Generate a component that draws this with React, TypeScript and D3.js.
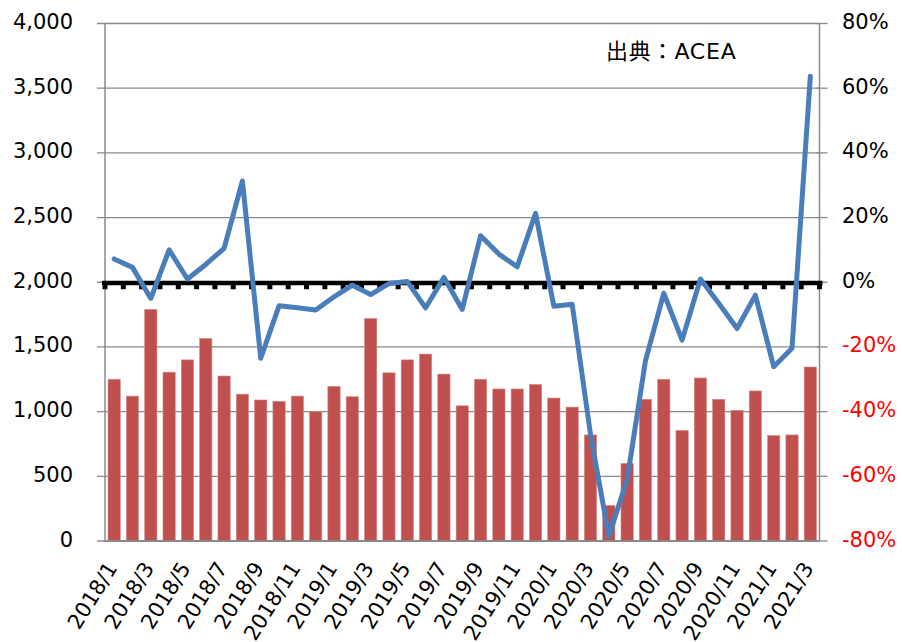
import React from "react";
import * as d3 from "d3";

const months: string[] = [];
for (let y = 2018; y <= 2021; y++) {
  for (let m = 1; m <= 12; m++) {
    if (y === 2021 && m > 3) break;
    months.push(`${y}/${m}`);
  }
}

const registrations = [
  1250, 1120, 1790, 1305, 1400, 1565, 1275, 1135, 1090, 1080, 1120, 1000,
  1195, 1115, 1720, 1300, 1400, 1445, 1290, 1045, 1250, 1175, 1175, 1210,
  1105, 1035, 820, 275, 600, 1095, 1250, 855, 1260, 1095, 1010, 1160,
  815, 820, 1345,
];

const yoyChange = [
  7.2, 4.6, -5.0, 10.0, 1.0, 5.5, 10.5, 31.3, -23.5, -7.3, -7.9, -8.6,
  -4.5, -0.9, -3.8, -0.4, 0.2, -7.9, 1.5, -8.4, 14.4, 8.7, 4.8, 21.3,
  -7.4, -6.8, -47, -78.5, -61, -24.3, -3.4, -17.9, 1.0, -6.5, -14.3, -4.0,
  -26.1, -20.4, 63.7,
];

const leftTicks = [0, 500, 1000, 1500, 2000, 2500, 3000, 3500, 4000];
const rightTicks = [-80, -60, -40, -20, 0, 20, 40, 60, 80];
const sourceLabel = "出典：ACEA";

const W = 902;
const H = 642;
const X0 = 105;
const X1 = 819.5;
const YB = 541;
const YT = 23.5;
const FONT = "'DejaVu Sans', Verdana, 'Noto Sans CJK JP', sans-serif";
const GRID = "#8a8a8a";

export default function App() {
  const x = d3.scaleBand<string>().domain(months).range([X0, X1]).paddingInner(0.33).paddingOuter(0.165);
  const xc = d3.scaleBand<string>().domain(months).range([X0, X1]);
  const yL = d3.scaleLinear().domain([0, 4000]).range([YB, YT]);
  const yR = d3.scaleLinear().domain([-80, 80]).range([YB, YT]);

  const lineGen = d3
    .line<number>()
    .x((_, i) => (xc(months[i]) as number) + xc.bandwidth() / 2)
    .y((d) => yR(d));

  const fmt = d3.format(",");
  const zeroY = yR(0);

  return (
    <svg
      width={W}
      height={H}
      style={{ position: "absolute", left: 0, top: 0, background: "#fff" }}
      fontFamily={FONT}
    >
      {/* gridlines */}
      {leftTicks.map((t) => (
        <line key={"g" + t} x1={X0 - 8} x2={X1} y1={yL(t)} y2={yL(t)} stroke={GRID} strokeWidth={1.3} />
      ))}
      {/* right ticks */}
      {rightTicks.map((t) => (
        <line key={"rt" + t} x1={X1 - 3} x2={X1 + 8} y1={yR(t)} y2={yR(t)} stroke={GRID} strokeWidth={1.3} />
      ))}
      {/* bars */}
      {registrations.map((v, i) => (
        <rect
          key={"b" + i}
          x={x(months[i])}
          y={yL(v)}
          width={x.bandwidth()}
          height={YB - yL(v)}
          fill="#C0504D"
          stroke="#d48a88"
          strokeWidth={0.6}
        />
      ))}
      {/* axes */}
      <line x1={X0} x2={X0} y1={YT} y2={YB} stroke={GRID} strokeWidth={1.5} />
      <line x1={X1} x2={X1} y1={YT} y2={YB} stroke={GRID} strokeWidth={1.5} />
      <line x1={X0} x2={X1} y1={YB} y2={YB} stroke={GRID} strokeWidth={2} />
      {/* zero line */}
      <rect x={X0 - 3} y={zeroY - 1.5} width={X1 - X0 + 6} height={4.5} fill="#000" />
      {months.concat(["end"]).map((_, i) => {
        const bx = X0 + i * xc.bandwidth();
        return <rect key={"zt" + i} x={bx - 2.5} y={zeroY + 2.5} width={5} height={4.5} fill="#000" />;
      })}
      {/* line */}
      <path
        d={lineGen(yoyChange) || ""}
        fill="none"
        stroke="#4A7EBB"
        strokeWidth={5}
        strokeLinejoin="round"
        strokeLinecap="round"
      />
      {/* left labels */}
      {leftTicks.map((t) => (
        <text key={"ll" + t} x={73} y={yL(t) + 5.5} textAnchor="end" fontSize={21} fill="#000">
          {fmt(t)}
        </text>
      ))}
      {/* right labels */}
      {rightTicks.map((t) => (
        <text key={"rl" + t} x={842} y={yR(t) + 5.5} textAnchor="start" fontSize={21} fill={t < 0 ? "#FF0000" : "#000"}>
          {`${t}%`}
        </text>
      ))}
      {/* x labels */}
      {months.map((m, i) =>
        i % 2 === 0 ? (
          <text
            key={"xl" + m}
            transform={`translate(${(xc(m) as number) + xc.bandwidth() / 2 + 4},568) rotate(-58)`}
            textAnchor="end"
            fontSize={21}
            fill="#000"
          >
            {m}
          </text>
        ) : null
      )}
      {/* source */}
      <text x={606} y={59} fontSize={22} letterSpacing={0.8} fill="#000">
        {sourceLabel}
      </text>
    </svg>
  );
}
